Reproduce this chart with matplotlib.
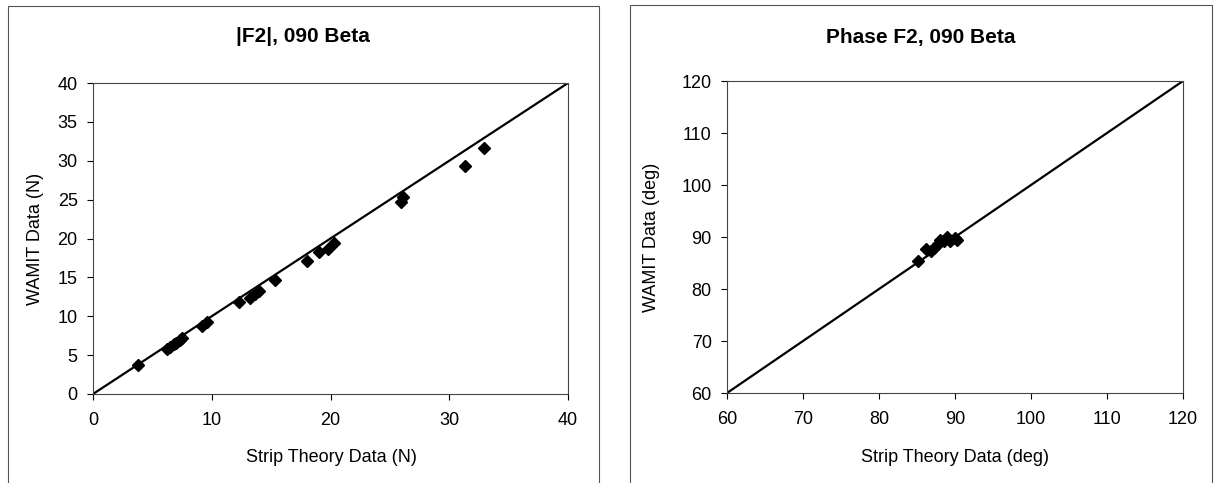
import matplotlib
matplotlib.use('Agg')
import matplotlib.pyplot as plt
import numpy as np
from matplotlib.patches import Rectangle

plt.rcParams['font.family'] = ['Liberation Sans', 'DejaVu Sans']

# |F2| data (N)
mag_strip = [3.8, 6.2, 6.5, 6.8, 7.0, 7.3, 7.5, 9.2, 9.6, 12.3, 13.2, 13.6, 14.0,
             15.3, 18.0, 19.0, 19.8, 20.3, 25.9, 26.1, 31.3, 32.9]
mag_wamit = [3.7, 5.8, 6.1, 6.4, 6.6, 7.0, 7.2, 8.8, 9.3, 11.8, 12.3, 12.8, 13.2,
             14.7, 17.1, 18.2, 18.7, 19.4, 24.7, 25.4, 29.3, 31.7]

# Phase F2 data (deg)
phase_strip = [85.1, 86.2, 86.9, 87.3, 87.7, 88.0, 88.6, 89.0, 89.3, 90.0, 90.2]
phase_wamit = [85.4, 87.6, 87.3, 87.8, 88.6, 89.5, 89.2, 90.0, 89.2, 89.9, 89.5]

W, H = 1215, 483
fig = plt.figure(figsize=(W / 100, H / 100), dpi=100)

# panel frames (chart areas)
fig.patches.append(Rectangle((8 / W, -0.1), 591 / W, 1.1 - 6 / H,
                             transform=fig.transFigure, fill=False,
                             edgecolor='#555555', linewidth=0.8))
fig.patches.append(Rectangle((630 / W, -0.1), 582 / W, 1.1 - 5 / H,
                             transform=fig.transFigure, fill=False,
                             edgecolor='#555555', linewidth=0.8))

ax1 = fig.add_axes([93 / W, 1 - 394 / H, 475 / W, 311 / H])
ax2 = fig.add_axes([727 / W, 1 - 393 / H, 456 / W, 312 / H])


def style(ax, lims, ticks, xs, ys):
    ax.plot(lims, lims, color='black', linewidth=1.6, zorder=2)
    ax.plot(xs, ys, linestyle='none', marker='D', markersize=6.5,
            color='black', zorder=3, clip_on=False)
    ax.set_xlim(lims)
    ax.set_ylim(lims)
    ax.set_xticks(ticks)
    ax.set_yticks(ticks)
    ax.tick_params(direction='out', length=4, width=0.8, labelsize=13,
                   colors='black')
    ax.tick_params(axis='x', pad=9)
    ax.tick_params(axis='y', pad=7)
    for s in ax.spines.values():
        s.set_linewidth(0.8)
        s.set_color('#444444')


style(ax1, [0, 40], np.arange(0, 41, 5), mag_strip, mag_wamit)
ax1.set_xticks(np.arange(0, 41, 10))
style(ax2, [60, 120], np.arange(60, 121, 10), phase_strip, phase_wamit)

# titles and axis labels placed like the original chart areas
fig.text(303 / W, 1 - 37 / H, '|F2|, 090 Beta', fontsize=15, fontweight='bold',
         ha='center', va='center')
fig.text(921 / W, 1 - 37 / H, 'Phase F2, 090 Beta', fontsize=15, fontweight='bold',
         ha='center', va='center')
fig.text(331 / W, 1 - 457 / H, 'Strip Theory Data (N)', fontsize=13,
         ha='center', va='center')
fig.text(955 / W, 1 - 457 / H, 'Strip Theory Data (deg)', fontsize=13,
         ha='center', va='center')
fig.text(36 / W, 1 - 239 / H, 'WAMIT Data (N)', fontsize=13, rotation=90,
         ha='center', va='center')
fig.text(651 / W, 1 - 237 / H, 'WAMIT Data (deg)', fontsize=13, rotation=90,
         ha='center', va='center')

fig.savefig('out.png', dpi=100)
